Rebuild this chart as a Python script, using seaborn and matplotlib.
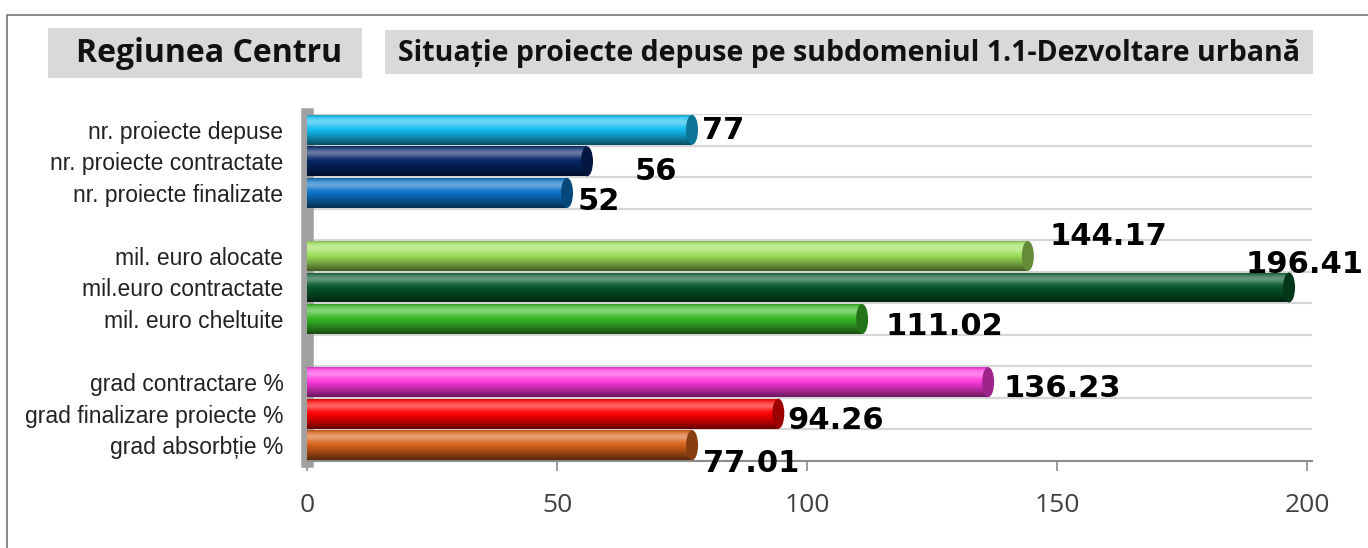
import numpy as np
import pandas as pd
import matplotlib
matplotlib.use("Agg")
import matplotlib.pyplot as plt
import seaborn as sns
from matplotlib.patches import Rectangle, Ellipse
from matplotlib import colors as mcolors

# ---------------- data ----------------
CATEGORIES = [
    "nr. proiecte depuse",
    "nr. proiecte contractate",
    "nr. proiecte finalizate",
    "mil. euro alocate",
    "mil.euro contractate",
    "mil. euro cheltuite",
    "grad contractare %",
    "grad finalizare proiecte %",
    "grad absorbție %",
]
VALUES = [77, 56, 52, 144.17, 196.41, 111.02, 136.23, 94.26, 77.01]
VALUE_LABELS = ["77", "56", "52", "144.17", "196.41", "111.02", "136.23", "94.26", "77.01"]
BAR_COLORS = ["#14bdf2", "#062568", "#0a72c6", "#9fe05a", "#06582a",
              "#38b927", "#ff3ae0", "#ff0000", "#d9621a"]
GAP_1, GAP_2 = " ", "  "
SLOT_ORDER = CATEGORIES[0:3] + [GAP_1] + CATEGORIES[3:6] + [GAP_2] + CATEGORIES[6:9]
X_TICKS = [0, 50, 100, 150, 200]
TITLE_REGION = "Regiunea Centru"
TITLE_MAIN = "Situație proiecte depuse pe subdomeniul 1.1-Dezvoltare urbană"

# layout only: label offsets in pixels (dx right, dy down) from bar end
LABEL_OFFSETS_PX = [(10, -2), (48, 7), (11, 6), (22, -22), (-44, -26),
                    (23, 4), (15, 3), (9, 4), (11, 15)]

# ---------------- figure ----------------
W, H = 1368, 548
sns.set_theme(style="white")
plt.rcParams["font.family"] = ["DejaVu Sans"]

fig = plt.figure(figsize=(W / 100, H / 100), dpi=100)
fig.patch.set_facecolor("white")

def fx(px):
    return px / W

def fy(py):
    return 1 - py / H

# outer frame
fig.add_artist(Rectangle((fx(7), -0.02), 1.05, fy(15) + 0.02, transform=fig.transFigure,
                         fill=False, edgecolor="#808080", lw=1.3))

# title boxes
fig.add_artist(Rectangle((fx(48), fy(78)), fx(362) - fx(48), fy(28) - fy(78),
                         transform=fig.transFigure, facecolor="#d9d9d9", edgecolor="none"))
fig.text(fx(209), fy(54), TITLE_REGION, ha="center", va="center", fontsize=23,
         fontweight="bold", family=["Open Sans", "DejaVu Sans"], color="#111111")
fig.add_artist(Rectangle((fx(385), fy(74)), fx(1313) - fx(385), fy(30) - fy(74),
                         transform=fig.transFigure, facecolor="#d9d9d9", edgecolor="none"))
fig.text(fx(849), fy(53), TITLE_MAIN, ha="center", va="center", fontsize=20.5,
         fontweight="bold", family=["Open Sans", "DejaVu Sans"], color="#111111")

ax = fig.add_axes([fx(307), fy(461), (1312 - 307) / W, (461 - 114) / H])
ax.set_facecolor("none")

df = pd.DataFrame({"category": CATEGORIES, "value": VALUES})
palette = dict(zip(CATEGORIES, BAR_COLORS))
sns.barplot(data=df, x="value", y="category", hue="category", palette=palette,
            order=SLOT_ORDER, legend=False, width=0.95, saturation=1, ax=ax)

XMAX = 201
px_per_unit = (1312 - 307) / XMAX
cap_w = 12 / px_per_unit

N = 80
t = np.linspace(0, 1, N)
light = 0.38 * np.exp(-((t - 0.22) / 0.16) ** 2)
dark = 0.6 * np.clip((t - 0.45) / 0.55, 0, 1) ** 1.2 + 0.18 * np.clip((0.08 - t) / 0.08, 0, 1)

bars = [p for p in ax.patches if isinstance(p, Rectangle) and p.get_width() > 0]
for p in bars:
    p.set_zorder(3)
    p.set_edgecolor("none")
    base = np.array(mcolors.to_rgb(p.get_facecolor()))
    img = base[None, :] + (1 - base[None, :]) * light[:, None]
    img = img * (1 - dark[:, None])
    img = np.clip(img, 0, 1)[:, None, :]
    x0, y0, w, h = p.get_x(), p.get_y(), p.get_width(), p.get_height()
    im = ax.imshow(img, extent=(x0, x0 + w, y0 + h, y0), aspect="auto", origin="upper",
                   interpolation="bilinear", zorder=3.1)
    im.set_clip_path(p)
    cap_col = np.clip(base * 0.62, 0, 1)
    ax.add_patch(Ellipse((x0 + w, y0 + h / 2), cap_w, h, facecolor=cap_col,
                         edgecolor="none", zorder=3.2))

# value labels
for cat, val, lab, (dx, dy) in zip(CATEGORIES, VALUES, VALUE_LABELS, LABEL_OFFSETS_PX):
    slot = SLOT_ORDER.index(cat)
    ax.annotate(lab, xy=(val, slot), xytext=(dx, -dy), textcoords="offset pixels",
                ha="left", va="center_baseline", fontsize=22, fontweight="bold",
                family="DejaVu Sans", color="black", annotation_clip=False, zorder=5)

ax.set_xlim(0, XMAX)
ax.set_ylim(len(SLOT_ORDER) - 0.5, -0.5)

# gridlines at slot boundaries
ax.set_yticks(np.arange(-0.5, len(SLOT_ORDER), 1), minor=True)
ax.grid(which="minor", axis="y", color="#d6d6d6", lw=1.6)
ax.grid(which="major", visible=False)
ax.set_axisbelow(True)

ax.set_yticks(range(len(SLOT_ORDER)))
ax.set_yticklabels(SLOT_ORDER)
for lbl in ax.get_yticklabels():
    lbl.set_family(["Liberation Sans Narrow", "Liberation Sans", "DejaVu Sans"])
    lbl.set_fontsize(16.5)
    lbl.set_color("#222222")
ax.tick_params(axis="y", which="both", length=0, pad=17)

ax.set_xticks(X_TICKS)
ax.set_xticklabels([str(v) for v in X_TICKS])
for lbl in ax.get_xticklabels():
    lbl.set_family(["Open Sans", "DejaVu Sans"])
    lbl.set_fontsize(19)
    lbl.set_color("#404040")
ax.tick_params(axis="x", length=7, width=1.2, color="#8c8c8c", pad=16, bottom=True)

ax.set_xlabel("")
ax.set_ylabel("")
for s in ["top", "right"]:
    ax.spines[s].set_visible(False)
ax.spines["left"].set_color("#a0a0a0")
ax.spines["left"].set_linewidth(9)
ax.spines["bottom"].set_color("#8c8c8c")
ax.spines["bottom"].set_linewidth(1.5)

fig.savefig("out.png", dpi=100)
